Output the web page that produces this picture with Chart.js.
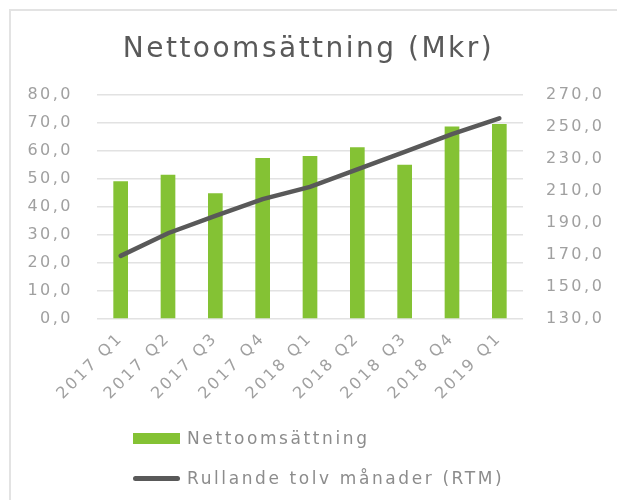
<!DOCTYPE html>
<html lang="sv">
<head>
  <meta charset="UTF-8">
  <title>Nettoomsättning (Mkr)</title>
  <script src="https://cdn.jsdelivr.net/npm/chart.js"></script>
  <style>
    html, body { margin: 0; padding: 0; background: #fff; }
    body { width: 617px; height: 500px; position: relative; overflow: hidden; font-family: "DejaVu Sans", sans-serif; }
    /* ramens övre och vänstra kant */
    .edge { position: absolute; background: #e3e3e3; }
    #edge-top { left: 9px; top: 9px; width: 608px; height: 2px; }
    #edge-left { left: 9px; top: 9px; width: 2px; height: 491px; }
    #chart-container { position: absolute; left: 0; top: 0; width: 617px; height: 500px; }
    #legend { position: absolute; left: 133px; top: 418px; font-size: 17px; color: #8c8c8c; letter-spacing: 2.6px; }
    .item { display: flex; align-items: center; height: 40px; }
    .swatch { width: 47px; margin-right: 7px; }
  </style>
</head>
<body>
  <div class="edge" id="edge-top"></div>
  <div class="edge" id="edge-left"></div>
  <div id="chart-container"><canvas id="chart"></canvas></div>
  <div id="legend"></div>

  <script>
    const quarters = ['2017 Q1','2017 Q2','2017 Q3','2017 Q4','2018 Q1','2018 Q2','2018 Q3','2018 Q4','2019 Q1'];
    // Nettoomsättning per kvartal (Mkr), vänster axel
    const netSales = [49.1, 51.4, 44.8, 57.4, 58.1, 61.2, 55.0, 68.6, 69.5];
    // Rullande tolv månader (Mkr), höger axel
    const rtm = [169.4, 183.5, 194.3, 204.8, 212.4, 223.3, 234.2, 245.3, 255.2];

    const leftTicks = { min: 0, max: 80, step: 10 };
    const rightTicks = { min: 130, max: 270, step: 20 };

    const green = '#84c234';
    const dark = '#595959';
    const tickColor = '#a0a0a0';
    const fmt = v => v.toFixed(1).replace('.', ',');

    // originalets typsnitt är brett, så vi spärrar texten lite
    const spacing = {
      id: 'spacing',
      beforeLayout(c) { c.ctx.letterSpacing = '2.5px'; },
      beforeDraw(c) { c.ctx.letterSpacing = '2.5px'; }
    };

    const ctx = document.getElementById('chart').getContext('2d');
    const chart = new Chart(ctx, {
      data: {
        labels: quarters,
        datasets: [
          {
            type: 'line', label: 'Rullande tolv månader (RTM)', data: rtm, yAxisID: 'y2',
            borderColor: dark, borderWidth: 4.5, pointRadius: 0, borderCapStyle: 'round',
            tension: 0, order: 0
          },
          {
            type: 'bar', label: 'Nettoomsättning', data: netSales, yAxisID: 'y',
            backgroundColor: green, categoryPercentage: 1, barPercentage: 0.31, order: 1
          }
        ]
      },
      plugins: [spacing],
      options: {
        responsive: true,
        maintainAspectRatio: false,
        animation: false,
        layout: { padding: { left: 0, right: 0, top: 0, bottom: 81 } },
        plugins: {
          legend: { display: false },
          tooltip: { enabled: false },
          title: {
            display: true, text: 'Nettoomsättning (Mkr)', color: dark,
            font: { family: 'DejaVu Sans', size: 28, weight: 'normal' },
            padding: { top: 33, bottom: 28 }
          }
        },
        scales: {
          x: {
            grid: { display: false, drawTicks: false },
            border: { display: false },
            ticks: {
              color: tickColor, font: { family: 'DejaVu Sans', size: 16 },
              minRotation: 45, maxRotation: 45, padding: 10
            },
            afterFit: s => { s.height = 100; }
          },
          y: {
            position: 'left', min: leftTicks.min, max: leftTicks.max,
            ticks: { stepSize: leftTicks.step, color: tickColor, padding: 24,
                     font: { family: 'DejaVu Sans', size: 16 }, callback: v => fmt(v) },
            grid: { color: '#e2e2e2', lineWidth: 1.5, drawTicks: false },
            border: { display: false },
            afterFit: s => { s.width = 97; }
          },
          y2: {
            position: 'right', min: rightTicks.min, max: rightTicks.max,
            ticks: { stepSize: rightTicks.step, color: tickColor, padding: 23,
                     font: { family: 'DejaVu Sans', size: 16 }, callback: v => fmt(v) },
            grid: { display: false, drawTicks: false },
            border: { display: false },
            afterFit: s => { s.width = 94; }
          }
        }
      }
    });

    // Legenden ritas som HTML, staplad lodrätt som i originalet
    const legend = document.getElementById('legend');
    [...chart.data.datasets].reverse().forEach(ds => {
      const row = document.createElement('div');
      row.className = 'item';
      const sw = document.createElement('span');
      sw.className = 'swatch';
      if (ds.type === 'bar') {
        sw.style.height = '11px'; sw.style.background = ds.backgroundColor;
      } else {
        sw.style.height = '5px'; sw.style.background = ds.borderColor; sw.style.borderRadius = '3px';
      }
      const txt = document.createElement('span');
      txt.textContent = ds.label;
      row.appendChild(sw); row.appendChild(txt);
      legend.appendChild(row);
    });
  </script>
</body>
</html>
